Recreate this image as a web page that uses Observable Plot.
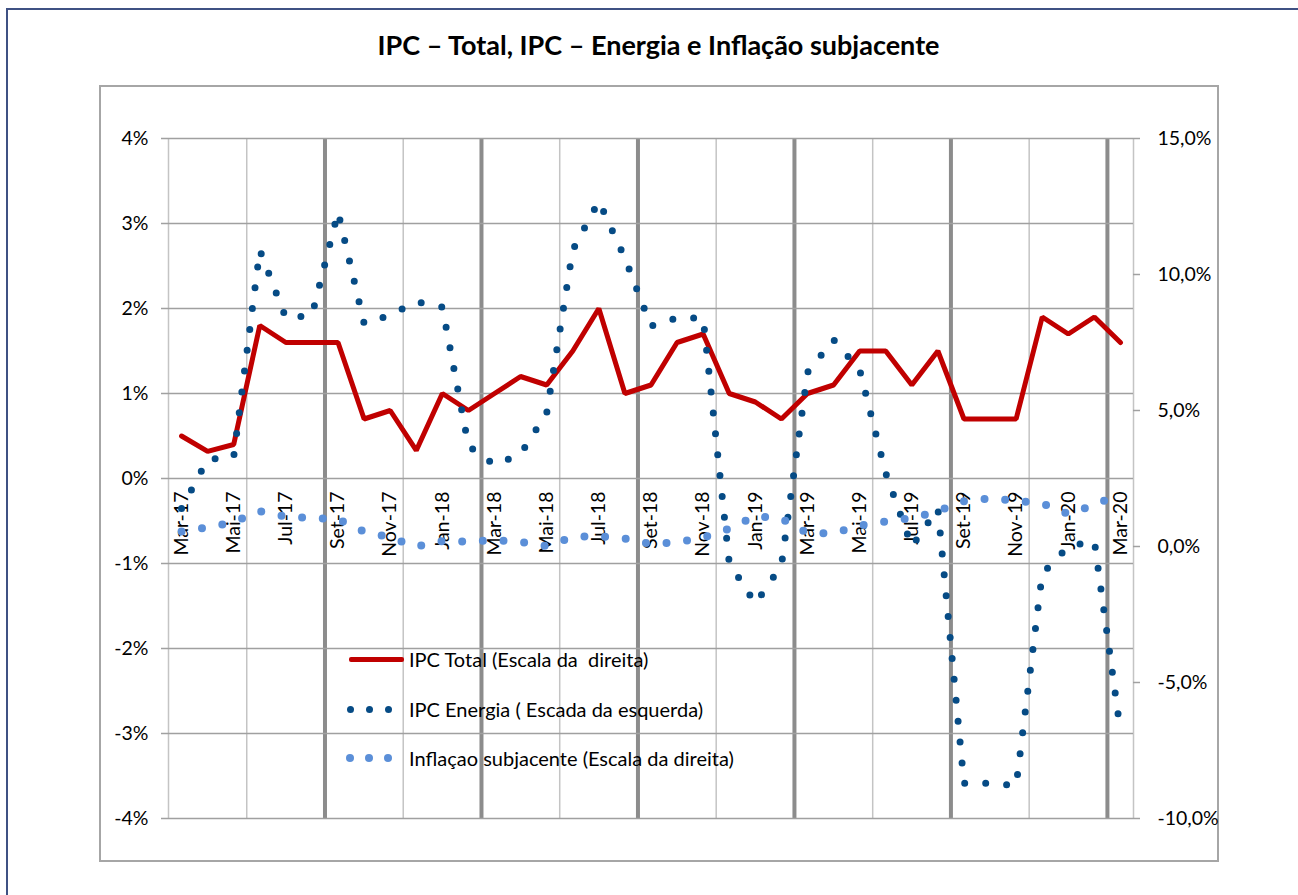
<!DOCTYPE html>
<html><head><meta charset="utf-8">
<script src="https://cdn.jsdelivr.net/npm/d3@7"></script>
<script src="https://cdn.jsdelivr.net/npm/@observablehq/plot@0.6"></script>
<style>
html,body{margin:0;padding:0;background:#fff;overflow:hidden;}
#wrap{position:relative;width:1298px;height:895px;overflow:hidden;font-family:Lato,"Open Sans",sans-serif;color:#000;}
#outerL{position:absolute;left:6px;top:8px;width:2px;height:900px;background:#3f5183;}
#outerT{position:absolute;left:6px;top:8px;width:1292px;height:2px;background:#3f5183;}
#inner{position:absolute;left:99px;top:85px;width:1116px;height:773px;border:2px solid #a6a6a6;}
#title{position:absolute;left:100px;width:1117px;top:29px;line-height:32px;text-align:center;font-weight:bold;font-size:27px;}
#chart{position:absolute;left:0;top:0;}
.leg{position:absolute;font-size:20px;white-space:pre;line-height:24px;}
.dot{position:absolute;border-radius:50%;}
</style></head>
<body><div id="wrap">
<div id="outerL"></div>
<div id="outerT"></div>
<div id="inner"></div>
<div id="title">IPC – Total, IPC – Energia e Inflação subjacente</div>
<div id="chart"></div>
<div id="legend"></div>
</div>
<script>
// Months (Mar-17 .. Mar-20)
const months = ["Mar-17","Abr-17","Mai-17","Jun-17","Jul-17","Ago-17","Set-17","Out-17","Nov-17","Dez-17",
 "Jan-18","Fev-18","Mar-18","Abr-18","Mai-18","Jun-18","Jul-18","Ago-18","Set-18","Out-18","Nov-18","Dez-18",
 "Jan-19","Fev-19","Mar-19","Abr-19","Mai-19","Jun-19","Jul-19","Ago-19","Set-19","Out-19","Nov-19","Dez-19",
 "Jan-20","Fev-20","Mar-20"];
// IPC Total (left scale, %)
const ipcTotal = [0.5,0.32,0.4,1.8,1.6,1.6,1.6,0.7,0.8,0.33,1.0,0.8,1.0,1.2,1.1,1.5,2.0,1.0,1.1,1.6,1.7,1.0,0.9,0.7,
 1.0,1.1,1.5,1.5,1.1,1.5,0.7,0.7,0.7,1.9,1.7,1.9,1.6];
// IPC Energia (right scale, %)
const ipcEnergia = [1.4,3.2,3.3,10.9,8.4,8.5,12.3,8.2,8.5,9.0,8.8,3.7,3.0,3.4,4.9,10.9,12.7,10.6,8.1,8.4,8.4,-0.6,
 -2.1,-0.7,6.4,7.6,6.5,2.7,0.0,1.4,-8.7,-8.7,-8.8,-1.0,0.0,0.2,-6.8];
// Inflação subjacente (right scale, %)
const inflSubj = [0.55,0.7,0.9,1.3,1.1,1.05,1.0,0.55,0.33,0.0,0.2,0.18,0.24,0.17,0.02,0.35,0.38,0.29,0.09,0.15,0.33,
 0.65,1.12,1.02,0.49,0.49,0.77,0.92,1.04,1.3,1.66,1.77,1.68,1.58,1.2,1.53,1.95];
const leftTicks = [-4,-3,-2,-1,0,1,2,3,4];
const rightTicks = [-10,-5,0,5,10,15];
const thinGrid = [-0.5,2.5,8.5,14.5,20.5,26.5,32.5,36.5];
const thickGrid = [5.5,11.5,17.5,23.5,29.5,35.5];
const labelIdx = months.map((m,i)=>i).filter(i=>i%2===0);

const toLeft = r => (r - 2.5) / 3.125;   // right axis (-10..15) -> left axis (-4..4)
const W = 1298, H = 895, mL = 168, mR = 165, mT = 138, mB = 77;
const step = (W - mL - mR) / 37;
const tk = 7 / step;

const rows = months.map((m,i)=>({i, m, total: ipcTotal[i], energia: ipcEnergia[i], core: inflSubj[i]}));

const chart = Plot.plot({
  width: W, height: H, marginLeft: mL, marginRight: mR, marginTop: mT, marginBottom: mB,
  x: {domain: [-0.5, 36.5], axis: null},
  y: {domain: [-4, 4], axis: null},
  style: {background: "transparent", fontFamily: "Lato, 'Open Sans', sans-serif", fontSize: "19.5px", color: "#000", overflow: "visible"},
  marks: [
    Plot.ruleX(thinGrid, {x: d => d, y1: -4, y2: 4, stroke: "#c4c4c4", strokeWidth: 1.5}),
    Plot.ruleX(thickGrid, {x: d => d, y1: -4, y2: 4, stroke: "#8c8c8c", strokeWidth: 4}),
    Plot.ruleY(leftTicks, {y: d => d, x1: -0.5 - tk, x2: 36.5, stroke: "#a0a0a0", strokeWidth: 1.5}),
    Plot.ruleY(rightTicks, {y: d => toLeft(d), x1: 36.5, x2: 36.5 + tk, stroke: "#a0a0a0", strokeWidth: 1.5}),
    Plot.text(leftTicks, {x: -0.5, y: d => d, text: d => d + "%", textAnchor: "end", dx: -20}),
    Plot.text(rightTicks, {x: 36.5, y: d => toLeft(d), text: d => d.toFixed(1).replace(".", ",") + "%", textAnchor: "start", dx: 24}),
    Plot.text(labelIdx, {x: d => d, y: 0, text: d => months[d], rotate: -90, textAnchor: "end", dy: 13}),
    Plot.line(rows, {x: "i", y: "total", stroke: "#c00000", strokeWidth: 5, strokeLinejoin: "miter"}),
    Plot.line(rows, {x: "i", y: d => toLeft(d.energia), stroke: "#064b85", strokeWidth: 7, strokeDasharray: "0 21", strokeLinecap: "round"}),
    Plot.line(rows, {x: "i", y: d => toLeft(d.core), stroke: "#5b8fd8", strokeWidth: 8, strokeDasharray: "0 20.7", strokeLinecap: "round"})
  ]
});
document.getElementById("chart").appendChild(chart);

// Legend
const legItems = [
  {label: "IPC Total (Escala da  direita)", type: "line", color: "#c00000", y: 659},
  {label: "IPC Energia ( Escada da esquerda)", type: "dot", color: "#064b85", size: 7, y: 709},
  {label: "Inflaçao subjacente (Escala da direita)", type: "dot", color: "#5b8fd8", size: 8, y: 758}
];
const leg = document.getElementById("legend");
legItems.forEach(it => {
  if (it.type === "line") {
    const s = document.createElement("div");
    s.style.cssText = `position:absolute;left:349px;top:${it.y-2.5}px;width:55px;height:5px;background:${it.color};border-radius:2px;`;
    leg.appendChild(s);
  } else {
    [350, 369, 388].forEach(cx => {
      const d = document.createElement("div");
      d.className = "dot";
      d.style.cssText += `left:${cx-it.size/2}px;top:${it.y-it.size/2}px;width:${it.size}px;height:${it.size}px;background:${it.color};`;
      leg.appendChild(d);
    });
  }
  const t = document.createElement("div");
  t.className = "leg";
  t.textContent = it.label;
  t.style.left = "409px";
  t.style.top = (it.y - 12) + "px";
  leg.appendChild(t);
});
</script>
</body></html>
